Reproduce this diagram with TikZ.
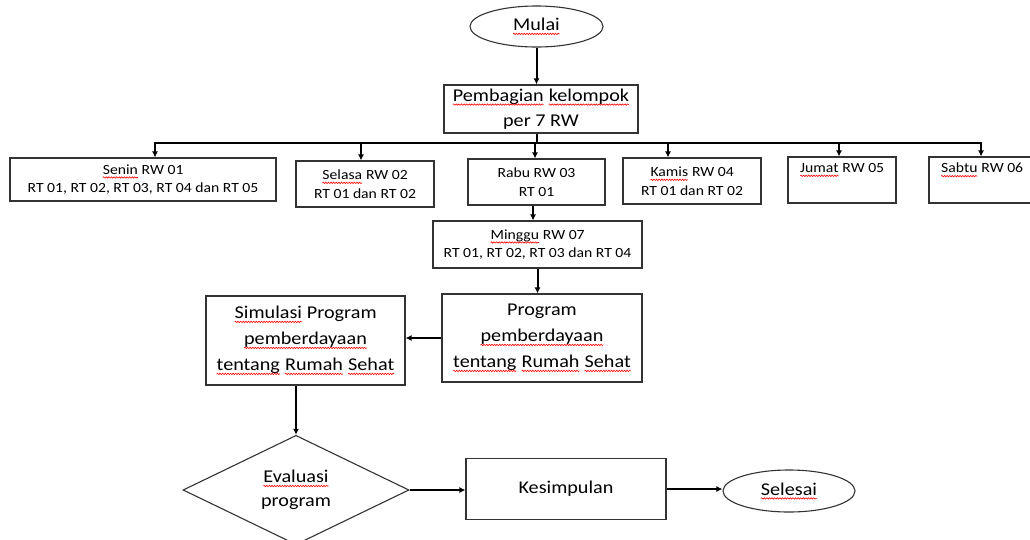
\documentclass[tikz,border=0pt]{standalone}
\usepackage{fontspec}
\setmainfont{Carlito}[FakeStretch=1.12]
\usetikzlibrary{shapes.geometric,arrows.meta,decorations.pathmorphing}
\newcommand\sq[1]{\tikz[baseline=(w.base)]{\node[inner sep=0pt, outer sep=0pt, draw=none, shape=rectangle, minimum width=0pt, minimum height=0pt, anchor=base] (w) at (0,0) {#1};
  \draw[red, line width=0.6pt, decorate, decoration={snake, amplitude=0.7pt, segment length=2.6pt}] ([yshift=-3.3pt]w.base west) -- ([yshift=-3.3pt]w.base east);}}
\begin{document}
\begin{tikzpicture}[x=1pt,y=-1pt,
  shp/.style={draw=black!80, line width=1.1pt, inner sep=0pt, align=center},
  box/.style={shp, rectangle},
  sm/.style={font=\fontsize{14}{18.5}\selectfont},
  lg/.style={font=\fontsize{18}{26}\selectfont},
  conn/.style={line width=2pt, black},
  arr/.style={conn, -{Latex[length=6pt,width=6pt]}}]
\useasboundingbox (0,0) rectangle (1030,539);

\node[shp, ellipse, minimum width=133pt, minimum height=41pt, lg] (mulai) at (536.5,26.5) {\sq{Mulai}};
\node[box, minimum width=194pt, minimum height=48pt, font=\fontsize{18}{25}\selectfont] (pemb) at (541,109) {\sq{Pembagian} \sq{kelompok}\\per 7 RW};

\node[box, sm, minimum width=266pt, minimum height=43pt] (senin) at (143,179.5) {\sq{Senin} RW 01\\RT 01, RT 02, RT 03, RT 04 dan RT 05};
\node[box, sm, minimum width=138pt, minimum height=46pt] (selasa) at (365,184) {\sq{Selasa} RW 02\\RT 01 dan RT 02};
\node[box, sm, minimum width=137pt, minimum height=46pt] (rabu) at (536.5,182) {Rabu RW 03\\RT 01};
\node[box, sm, minimum width=138pt, minimum height=46pt] (kamis) at (692,181) {\sq{Kamis} RW 04\\RT 01 dan RT 02};
\node[box, sm, minimum width=108pt, minimum height=46pt] (jumat) at (842,180) {\sq{Jumat} RW 05\\\strut};
\node[box, sm, minimum width=106pt, minimum height=46pt] (sabtu) at (982,180) {\sq{Sabtu} RW 06\\\strut};

\node[box, sm, minimum width=209pt, minimum height=47pt] (minggu) at (537.5,244.5) {\sq{Minggu} RW 07\\RT 01, RT 02, RT 03 dan RT 04};

\node[box, lg, minimum width=200pt, minimum height=88pt] (prog) at (542,338) {Program\\\sq{pemberdayaan}\\\sq{tentang} \sq{Rumah} \sq{Sehat}};
\node[box, lg, minimum width=199pt, minimum height=89pt] (sim) at (305.5,340.5) {\sq{Simulasi} Program\\\sq{pemberdayaan}\\\sq{tentang} \sq{Rumah} \sq{Sehat}};

\node[shp, diamond, minimum width=226pt, minimum height=104pt, font=\fontsize{18}{24}\selectfont] (eval) at (296,490) {\sq{Evaluasi}\\program};
\node[box, lg, minimum width=200pt, minimum height=61pt] (kes) at (566,489) {Kesimpulan};
\node[shp, ellipse, minimum width=132pt, minimum height=42pt, lg] (sel) at (789,491) {\sq{Selesai}};

% connectors
\draw[arr] (mulai.south) -- (mulai.south |- pemb.north);
\coordinate (bus) at (537,143);
\coordinate (busL) at (155,143);
\coordinate (busR) at (981,143);
\coordinate (b2) at (361,143);
\coordinate (b3) at (535,143);
\coordinate (b4) at (668,143);
\coordinate (b5) at (839,143);
\draw[conn] (bus |- pemb.south) -- (bus);
\draw[conn, line cap=rect] (busL) -- (busR);
\draw[arr] (busL) -- (busL |- senin.north);
\draw[arr] (b2) -- (b2 |- selasa.north);
\draw[arr] (b3) -- (b3 |- rabu.north);
\draw[arr] (b4) -- (b4 |- kamis.north);
\draw[arr] (b5) -- (b5 |- jumat.north);
\draw[arr] (busR) -- (busR |- sabtu.north);
\draw[arr] ([xshift=-3.5pt]rabu.south) -- ([xshift=-3.5pt]rabu.south |- minggu.north);
\draw[arr] (minggu.south) -- (minggu.south |- prog.north);
\draw[arr] (prog.west) -- (sim.east |- prog.west);
\draw[arr] (eval.north |- sim.south) -- (eval.north);
\draw[arr] (eval.east) -- (kes.west |- eval.east);
\draw[arr] (kes.east) -- (sel.west |- kes.east);
\end{tikzpicture}
\end{document}
